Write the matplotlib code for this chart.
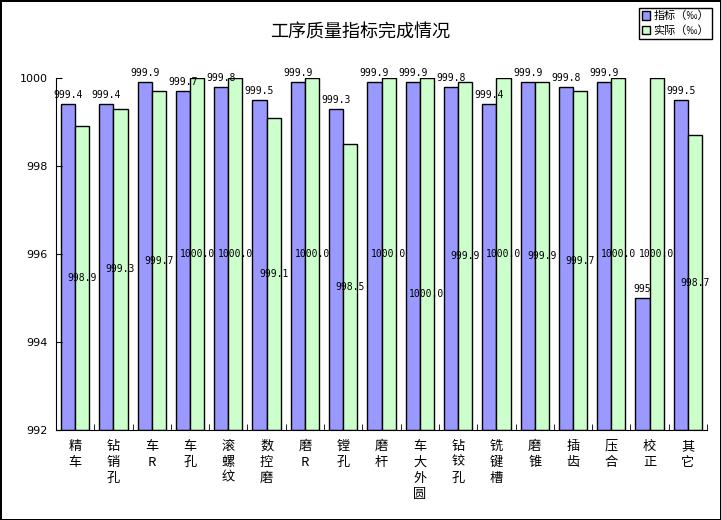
import matplotlib.pyplot as plt
from matplotlib.patches import Patch
import numpy as np

plt.rcParams['font.family'] = ['Noto Sans CJK SC', 'DejaVu Sans']

categories = ['精车', '钻销孔', '车R', '车孔', '滚螺纹', '数控磨', '磨R', '镗孔', '磨杆',
              '车大外圆', '钻铰孔', '铣键槽', '磨锥', '插齿', '压合', '校正', '其它']
target = [999.4, 999.4, 999.9, 999.7, 999.8, 999.5, 999.9, 999.3, 999.9,
          999.9, 999.8, 999.4, 999.9, 999.8, 999.9, 995, 999.5]
actual = [998.9, 999.3, 999.7, 1000.0, 1000.0, 999.1, 1000.0, 998.5, 1000.0,
          1000.0, 999.9, 1000.0, 999.9, 999.7, 1000.0, 1000.0, 998.7]
target_labels = ['999.4', '999.4', '999.9', '999.7', '999.8', '999.5', '999.9', '999.3', '999.9',
                 '999.9', '999.8', '999.4', '999.9', '999.8', '999.9', '995', '999.5']
yticks = [992, 994, 996, 998, 1000]

W, H = 721, 520
fig = plt.figure(figsize=(W / 100, H / 100), dpi=100)
fig.patch.set_edgecolor('black')
fig.patch.set_linewidth(2)

ax = fig.add_axes([56 / W, 1 - 430 / H, (707 - 56) / W, (430 - 78) / H])

x = np.arange(len(categories))
w = 0.37
blue = '#9999FF'
green = '#CCFFCC'
ax.bar(x - w / 2, [t - 992 for t in target], w, bottom=992, color=blue, edgecolor='black', linewidth=1)
ax.bar(x + w / 2, [a - 992 for a in actual], w, bottom=992, color=green, edgecolor='black', linewidth=1)

mono = 'DejaVu Sans Mono'
for i in range(len(categories)):
    ax.annotate(target_labels[i], (x[i] - w / 2, target[i]), xytext=(0, 3), textcoords='offset points',
                ha='center', va='bottom', fontsize=7, family=mono, annotation_clip=False)
    # the label of 车大外圆 sits lower in the original
    ymid = (992 + actual[i]) / 2 if i != 9 else 995.1
    ax.text(x[i] + w / 2, ymid, f'{actual[i]:.1f}', ha='center', va='center',
            fontsize=7, family=mono)

ax.set_xlim(-0.5, len(categories) - 0.5)
ax.set_ylim(992, 1000)
ax.set_yticks(yticks)
ax.set_yticklabels([str(v) for v in yticks], family='DejaVu Sans', fontsize=8)
ax.tick_params(axis='y', direction='in', length=4, pad=6)

ax.set_xticks(x)
ax.set_xticklabels(['\n'.join(c) for c in categories], fontsize=9.5, linespacing=1.3)
ax.tick_params(axis='x', which='major', length=0, pad=7)
ax.set_xticks(np.arange(len(categories) + 1) - 0.5, minor=True)
ax.tick_params(axis='x', which='minor', direction='in', length=4)

for s in ['top', 'right']:
    ax.spines[s].set_visible(False)

fig.text(360 / W, 1 - 33 / H, '工序质量指标完成情况', ha='center', va='center', fontsize=13)

handles = [Patch(facecolor=blue, edgecolor='black'), Patch(facecolor=green, edgecolor='black')]
leg = fig.legend(handles, ['指标（‰）', '实际（‰）'], loc='upper right',
                 bbox_to_anchor=(712 / W, 1 - 8 / H), fontsize=8, frameon=True, fancybox=False,
                 edgecolor='black', framealpha=1, borderpad=0.25, handlelength=0.75, handleheight=0.75,
                 handletextpad=0.3, labelspacing=0.35, borderaxespad=0)
leg.get_frame().set_linewidth(1)

fig.savefig('out.png', dpi=100, edgecolor=fig.get_edgecolor())
